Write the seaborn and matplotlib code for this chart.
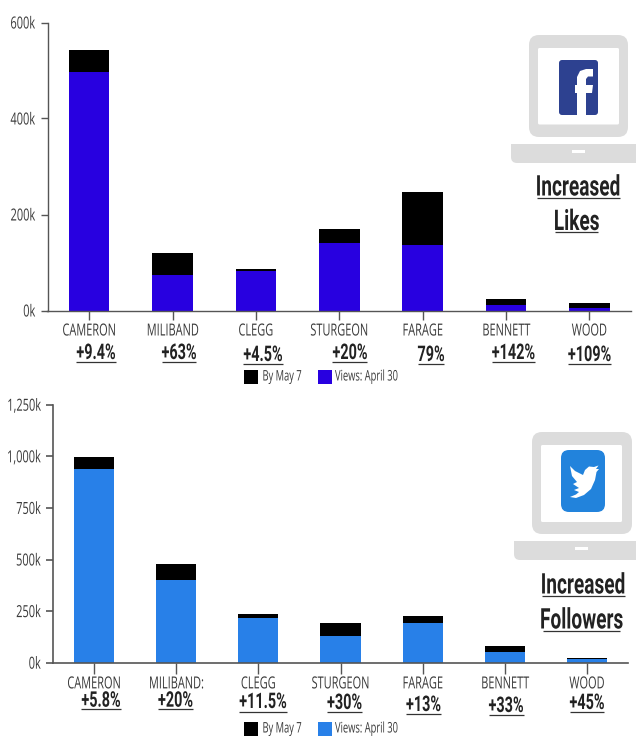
import matplotlib
matplotlib.use("Agg")
import matplotlib.pyplot as plt
from matplotlib.patches import FancyBboxPatch, Rectangle, Polygon
from matplotlib.patheffects import AbstractPathEffect
from matplotlib.transforms import Affine2D, Bbox
from matplotlib.text import Text
import seaborn as sns

sns.set_theme(style="white")
plt.rcParams["font.family"] = ["Open Sans", "DejaVu Sans"]

W, H = 636, 736

fb_names = ["CAMERON", "MILIBAND", "CLEGG", "STURGEON", "FARAGE", "BENNETT", "WOOD"]
fb_april = [496, 73, 82, 141, 136, 11, 6]
fb_may = [542, 119, 87.5, 169, 246, 25, 15.5]
fb_ticks = [0, 200, 400, 600]
fb_ticklabels = ["0k", "200k", "400k", "600k"]

tw_names = ["CAMERON", "MILIBAND:", "CLEGG", "STURGEON", "FARAGE", "BENNETT", "WOOD"]
tw_april = [940, 399, 216, 131, 192, 53, 16]
tw_may = [995, 477, 236, 192, 226, 80, 24]
tw_ticks = [0, 250, 500, 750, 1000, 1250]
tw_ticklabels = ["0k", "250k", "500k", "750k", "1,000k", "1,250k"]

legend_labels = ["By May 7", "Views: April 30"]
fb_pct = ["+9.4%", "+63%", "+4.5%", "+20%", "79%", "+142%", "+109%"]
tw_pct = ["+5.8%", "+20%", "+11.5%", "+30%", "+13%", "+33%", "+45%"]

fig = plt.figure(figsize=(W / 100, H / 100), dpi=100, facecolor="white")


class Condense(AbstractPathEffect):
    """Draws a real text narrower, since no condensed family is installed."""

    def __init__(self, sx, anchor="center"):
        super().__init__()
        self.sx, self.anchor = sx, anchor

    def draw_path(self, renderer, gc, tpath, affine, rgbFace=None):
        bb = tpath.get_extents(affine)
        a = {"left": bb.x0, "center": (bb.x0 + bb.x1) / 2, "right": bb.x1}[self.anchor]
        new = affine + Affine2D().translate(-a, 0).scale(self.sx, 1).translate(a, 0)
        renderer.draw_path(gc, tpath, new, rgbFace)


def condense(t, sx, anchor="center"):
    """Applies the narrowing and makes the text's reported extent match what is drawn."""
    t.set_path_effects([Condense(sx, anchor)])
    raw = t.get_window_extent

    def extent(renderer=None, dpi=None):
        b = raw(renderer, dpi)
        a = {"left": b.x0, "center": (b.x0 + b.x1) / 2, "right": b.x1}[anchor]
        return Bbox.from_extents(a + (b.x0 - a) * sx, b.y0, a + (b.x1 - a) * sx, b.y1)

    t.get_window_extent = extent
    return t


LAB_SX = 0.66
BOLD_SX = 0.67


def axes_px(x0, x1, ytop, ybot):
    return fig.add_axes([x0 / W, 1 - ybot / H, (x1 - x0) / W, (ybot - ytop) / H])


def draw(ax, names_, april, may, ticks, labels, ymax, color, lw, xlen, xpad):
    sns.barplot(x=names_, y=may, color="black", width=0.487, saturation=1, linewidth=0, ax=ax)
    sns.barplot(x=names_, y=april, color=color, width=0.487, saturation=1, linewidth=0, ax=ax)
    ax.set_xlim(-0.5, 6.5)
    ax.set_ylim(0, ymax)
    ax.set_yticks(ticks)
    ax.set_yticklabels(labels)
    ax.tick_params(axis="y", length=7.5 * 0.72, width=lw, color="#555555", pad=3.4,
                   labelsize=12, labelcolor="#3a3a3a", left=True)
    ax.tick_params(axis="x", length=xlen * 0.72, width=1, color="#555555", pad=xpad * 0.72,
                   labelsize=12, labelcolor="#3a3a3a", bottom=True)
    for t in ax.get_xticklabels():
        condense(t, LAB_SX, "center")
    for t in ax.get_yticklabels():
        condense(t, LAB_SX, "right")
    for s in ("top", "right"):
        ax.spines[s].set_visible(False)
    for s in ("left", "bottom"):
        ax.spines[s].set_color("#555555")
        ax.spines[s].set_linewidth(lw)
    ax.patch.set_alpha(0)


ax1 = axes_px(47.5, 631, 22.5, 310.5)
draw(ax1, fb_names, fb_april, fb_may, fb_ticks, fb_ticklabels, 600, "#2800E0", 1.0, 9, 4)
ax2 = axes_px(53, 628, 404.7, 662.7)
draw(ax2, tw_names, tw_april, tw_may, tw_ticks, tw_ticklabels, 1250, "#2880E8", 1.2, 10.7, 3)

# overlay in image pixel coordinates
ov = fig.add_axes([0, 0, 1, 1])
ov.set_xlim(0, W)
ov.set_ylim(H, 0)
ov.axis("off")
ov.patch.set_alpha(0)


def under(txt, cx, cy, uy, x0, x1, size):
    t = ov.text(cx, cy, txt, ha="center", va="center", fontsize=size, fontweight="bold",
                family=["Roboto", "DejaVu Sans"], color="#222222")
    condense(t, BOLD_SX, "center")
    ov.plot([x0, x1], [uy, uy], color="#333333", lw=0.9, solid_capstyle="butt")


fb_pos = [(96, 353, 362, 76, 116), (179, 353, 362, 162, 196), (263, 355, 364, 243, 283),
          (350, 353, 362, 332, 367), (431, 355, 364, 418, 444), (513.5, 353, 362, 492, 535),
          (589.5, 355, 364, 568, 611)]
tw_pos = [(101, 700.7, 709, 81, 121), (175.5, 700.7, 709, 158, 193), (263, 702, 711.7, 239, 287),
          (344.5, 703, 712, 327, 362), (423.5, 705, 714, 406, 441), (506, 706, 715, 489, 524),
          (587, 703, 712, 570, 604)]
for t, p in zip(fb_pct, fb_pos):
    under(t, *p, 15.5)
for t, p in zip(tw_pct, tw_pos):
    under(t, *p, 15.5)

under("Increased", 578, 188, 198, 537, 620, 20.5)
under("Likes", 576.5, 222.5, 232, 555, 598, 20.5)
under("Increased", 583, 586, 596, 542, 625, 20.5)
under("Followers", 581.5, 621, 631, 543, 620, 20.5)


def legend(y0, c):
    for (x, tx, lab, col) in [(244, 262, legend_labels[0], "black"), (318, 335, legend_labels[1], c)]:
        ov.add_patch(Rectangle((x, y0), 14, 14.5, color=col, lw=0))
        t = ov.text(tx, y0 + 7.5, lab, ha="left", va="center", fontsize=10.5, color="#3a3a3a", clip_on=False)
        condense(t, 0.64, "left")


legend(369.5, "#2800E0")
legend(721.5, "#2880E8")


def rbox(x0, y0, x1, y1, r, col, z=3):
    ov.add_patch(FancyBboxPatch((x0 + r, y0 + r), x1 - x0 - 2 * r, y1 - y0 - 2 * r,
                                boxstyle=f"round,pad={r},rounding_size={r}", fc=col, ec="none", zorder=z))


def laptop(ox0, ox1, oy0, oy1, ix0, ix1, iy0, iy1, bx0, by0, by1, sx0, sy0):
    G = "#DCDCDC"
    rbox(ox0, oy0, ox1, oy1, 10, G)
    rbox(ix0, iy0, ix1, iy1, 1.5, "white", 3.1)
    rbox(bx0, by0, 660, by1, 6, G)
    ov.add_patch(Rectangle((bx0, by0), 660 - bx0, 6, fc=G, ec="none", zorder=3))
    ov.add_patch(Rectangle((sx0, sy0), 13, 3, fc="white", ec="none", zorder=3.2))


laptop(529, 628, 35, 137, 538, 619, 48, 124.5, 511, 144, 163, 572, 150)
laptop(532, 632, 432, 534, 541, 622, 445, 522, 514, 541, 560, 575, 547)

# Facebook glyph
rbox(559, 60, 598, 115, 3, "#2D4190", 4)
ov.add_patch(Polygon([(586, 115), (586, 93), (592, 93), (593, 85), (586, 85), (586, 79), (588, 76.5), (593, 76.5),
                      (593, 69), (586, 69), (580, 71), (577, 77), (577, 85), (575, 85), (575, 93), (577, 93), (577, 115)],
                     fc="white", ec="none", zorder=5))

# Twitter glyph
rbox(561, 450, 605, 512, 8, "#2283DC", 4)
bird = [(570, 466), (575, 471), (583, 475), (585, 470), (589, 466.5), (594, 467), (598.5, 465.5), (596, 469), (599, 469),
        (596.5, 472), (595, 480), (591, 489), (584, 495), (576, 498), (570, 497), (576, 494.5), (579, 492), (574, 490),
        (579, 488), (573, 484), (577, 482), (572, 476)]
ov.add_patch(Polygon(bird, fc="white", ec="none", zorder=5))

fig.savefig("out.png", dpi=100)
